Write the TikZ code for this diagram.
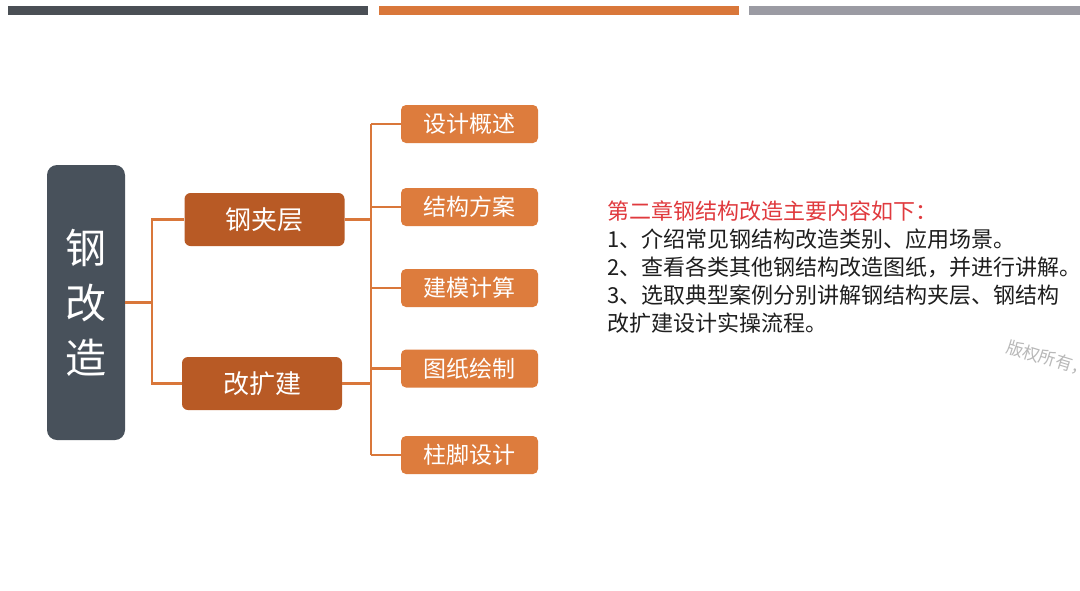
\documentclass[tikz,border=0pt]{standalone}
\usepackage{fontspec}
\setmainfont{Noto Sans CJK SC}
\definecolor{bardark}{HTML}{4A4F55}
\definecolor{barorange}{HTML}{D9773A}
\definecolor{bargray}{HTML}{9B9BA3}
\definecolor{rootfill}{HTML}{48515B}
\definecolor{midfill}{HTML}{B85A25}
\definecolor{leaffill}{HTML}{DD7C3D}
\definecolor{linecol}{HTML}{D9773A}
\definecolor{headred}{HTML}{E03A3E}
\definecolor{bodytext}{HTML}{1E1E1E}
\definecolor{wmark}{HTML}{B8B8B8}
\begin{document}
\begin{tikzpicture}[x=1pt,y=-1pt,
  rootbox/.style={fill=rootfill,rounded corners=10pt,text=white,minimum width=78pt,minimum height=275pt,inner sep=0pt,font=\fontsize{41}{55}\selectfont,align=center},
  midbox/.style={fill=midfill,rounded corners=6pt,text=white,minimum width=160pt,minimum height=53pt,inner sep=0pt,font=\fontsize{26}{30}\selectfont},
  leafbox/.style={fill=leaffill,rounded corners=5pt,text=white,minimum width=137pt,minimum height=38pt,inner sep=0pt,font=\fontsize{23}{26}\selectfont},
  conn/.style={draw=linecol,line width=2.4pt}]
\useasboundingbox (0,0) rectangle (1080,590);
\fill[white] (0,0) rectangle (1080,590);
% top bars
\fill[bardark] (8,6) rectangle (368,15);
\fill[barorange] (379,6) rectangle (739,15);
\fill[bargray] (749,6) rectangle (1080,15);
% nodes
\node[rootbox] (root) at (86,302.5) {\raisebox{-5pt}{\parbox{60pt}{\centering 钢\\改\\造}}};
\node[midbox] (b1) at (264.5,219.5) {钢夹层};
\node[midbox] (b2) at (262,383.5) {改扩建};
\node[leafbox] (r1) at (469.5,124) {设计概述};
\node[leafbox] (r2) at (469.5,207) {结构方案};
\node[leafbox] (r3) at (469.5,288) {建模计算};
\node[leafbox] (r4) at (469.5,368.5) {图纸绘制};
\node[leafbox] (r5) at (469.5,455) {柱脚设计};
% connectors
\coordinate (j1) at (152,302.5);
\coordinate (j2) at (371,290);
\draw[conn] (root.east) -- (j1);
\draw[conn] (j1) |- (b1.west);
\draw[conn] (j1) |- (b2.west);
\draw[conn] (b1.east) -- (j2 |- b1.east);
\draw[conn] (b2.east) -- (j2 |- b2.east);
\draw[conn] (j2 |- r1.west) -- (j2 |- r5.west);
\foreach \n in {r1,r2,r3,r4,r5}{
  \draw[conn] (j2 |- \n.west) -- (\n.west);
}
% text block
\node[anchor=north west,align=left,inner sep=0pt,text=bodytext,font=\fontsize{22}{27.8}\selectfont] (txt) at (607,201)
{\textcolor{headred}{第二章钢结构改造主要内容如下：}\\
1、介绍常见钢结构改造类别、应用场景。\\
2、查看各类其他钢结构改造图纸，并进行讲解。\\
3、选取典型案例分别讲解钢结构夹层、钢结构\\
改扩建设计实操流程。};
% watermark
\begin{scope}
\clip (0,0) rectangle (1080,590);
\node[anchor=west,rotate=-17,text=wmark,font=\fontsize{17}{20}\selectfont,inner sep=0pt] (wm) at (1007,346) {版权所有，};
\end{scope}
\end{tikzpicture}
\end{document}
